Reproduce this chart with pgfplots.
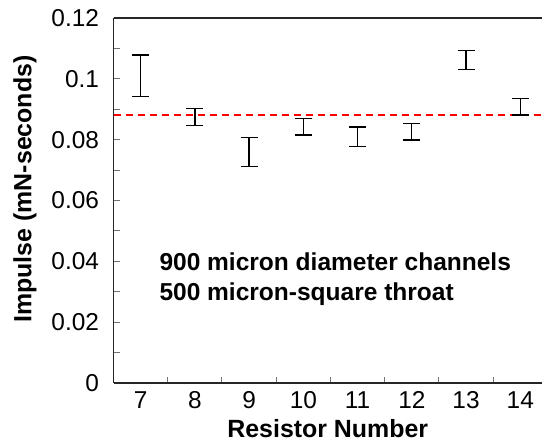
\documentclass[border=0pt]{standalone}
\usepackage{fontspec}
\setmainfont{Liberation Sans}
\usepackage{pgfplots}
\pgfplotsset{compat=1.18}

\begin{document}
\begin{tikzpicture}[x=1bp,y=1bp]
\useasboundingbox (0,0) rectangle (542,442);
\begin{axis}[
 at={(113.5bp,59bp)}, anchor=south west,
 scale only axis, width=428.5bp, height=365bp,
 xmin=6.5, xmax=14.4, ymin=0, ymax=0.12,
 axis x line*=box, axis y line*=left,
 axis line style={black!85, line width=1.4bp},
 tick align=inside, xtick pos=bottom, ytick pos=left,
 major tick length=6bp, minor tick length=6bp,
 every tick/.style={black!55, line width=1bp},
 xtick={7,8,9,10,11,12,13,14},
 xticklabels={7,8,9,10,11,12,13,14},
 major x tick style={draw=none},
 minor xtick={7.5,8.5,9.5,10.5,11.5,12.5,13.5},
 ytick={0,0.02,0.04,0.06,0.08,0.1,0.12},
 yticklabels={0,0.02,0.04,0.06,0.08,0.1,0.12},
 minor ytick={0.01,0.03,0.05,0.07,0.09,0.11},
 tick label style={font=\fontsize{24.5}{25}\selectfont},
 yticklabel style={xshift=-11bp},
 xticklabel style={yshift=-5bp},
 xlabel={\textbf{Resistor Number}},
 ylabel={\textbf{Impulse (mN-seconds)}},
 label style={font=\fontsize{25}{26}\selectfont},
 xlabel style={at={(axis description cs:0.5,0)}, anchor=base, yshift=-55bp},
 ylabel style={at={(axis description cs:-0.2065,0.5315)}, anchor=center},
]
\addplot[red, line width=2bp, dash pattern=on 7.5bp off 4.5bp] coordinates {(6.5,0.0882) (14.4,0.0882)};
\addplot[draw=none, mark=none,
 error bars/.cd, y dir=both, y explicit, error mark=|,
 error bar style={black, line width=1.3bp, solid},
 error mark options={black, line width=1.3bp, mark size=8.5bp}]
 coordinates {
 (7,0.10095) +- (0,0.00685)
 (8,0.0875) +- (0,0.0028)
 (9,0.0759) +- (0,0.0048)
 (10,0.08425) +- (0,0.00275)
 (11,0.08095) +- (0,0.00325)
 (12,0.08255) +- (0,0.00265)
 (13,0.1061) +- (0,0.0031)
 (14,0.09085) +- (0,0.00275)
 };
\node[anchor=base west, inner sep=0pt, font=\fontsize{24.6}{26}\selectfont\bfseries] at (axis cs:7.345,0.0369) {900 micron diameter channels};
\node[anchor=base west, inner sep=0pt, font=\fontsize{24.6}{26}\selectfont\bfseries] at (axis cs:7.345,0.0271) {500 micron-square throat};
\end{axis}
\end{tikzpicture}
\end{document}
